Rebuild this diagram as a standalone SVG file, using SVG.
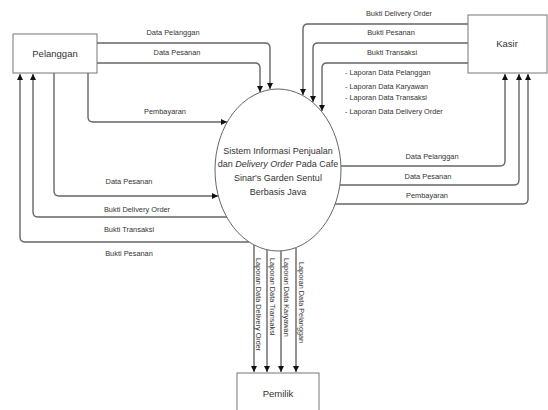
<svg xmlns="http://www.w3.org/2000/svg" width="548" height="410" viewBox="0 0 548 410">
<style>
.box{fill:#fff;stroke:#777;stroke-width:1}
.ell{fill:#fff;stroke:#666;stroke-width:1}
.c{fill:none;stroke:#666;stroke-width:1.4}
.t{font-family:"Liberation Sans",Arial,sans-serif;fill:#333}
.n{font-size:9.5px;text-anchor:middle}
.l{font-size:7.4px;text-anchor:middle}
.s{font-size:7.3px}
.m{font-size:9px;text-anchor:middle}
</style>
<defs>
<marker id="ah" markerUnits="userSpaceOnUse" markerWidth="7" markerHeight="7" refX="6" refY="3" orient="auto">
<path d="M0,0 L6,3 L0,6 z" fill="#111"/>
</marker>
</defs>
<rect width="548" height="410" fill="#fff"/>
<g id="connectors">
<path class="c" marker-end="url(#ah)" d="M97,43 H265 Q270,43 270,48 V89"/>
<path class="c" marker-end="url(#ah)" d="M97,63 H255 Q260,63 260,68 V92"/>
<path class="c" marker-end="url(#ah)" d="M88,73 V117 Q88,122 93,122 H227"/>
<path class="c" marker-end="url(#ah)" d="M54,73 V191 Q54,196 59,196 H218"/>
<path class="c" marker-end="url(#ah)" d="M227,217 H38 Q33,217 33,212 V74"/>
<path class="c" marker-end="url(#ah)" d="M249,242 H25 Q20,242 20,237 V74"/>
<path class="c" marker-end="url(#ah)" d="M468,24 H308 Q303,24 303,29 V95"/>
<path class="c" marker-end="url(#ah)" d="M468,43 H318 Q313,43 313,48 V102"/>
<path class="c" marker-end="url(#ah)" d="M468,63 H327 Q322,63 322,68 V111"/>
<path class="c" marker-end="url(#ah)" d="M341,166 H500 Q505,166 505,161 V74"/>
<path class="c" marker-end="url(#ah)" d="M339,185 H514 Q519,185 519,180 V74"/>
<path class="c" marker-end="url(#ah)" d="M335,204 H523 Q528,204 528,199 V74"/>
<path class="c" marker-end="url(#ah)" d="M254,245 V372"/>
<path class="c" marker-end="url(#ah)" d="M267,250 V372"/>
<path class="c" marker-end="url(#ah)" d="M281,251 V372"/>
<path class="c" marker-end="url(#ah)" d="M296,248 V372"/>
<g class="t l">
<text x="173" y="35">Data Pelanggan</text>
<text x="177" y="55">Data Pesanan</text>
<text x="165" y="114">Pembayaran</text>
<text x="129" y="184">Data Pesanan</text>
<text x="137" y="212">Bukti Delivery Order</text>
<text x="129" y="232">Bukti Transaksi</text>
<text x="129" y="256">Bukti Pesanan</text>
<text x="399" y="16">Bukti Delivery Order</text>
<text x="391" y="35">Bukti Pesanan</text>
<text x="392" y="55">Bukti Transaksi</text>
<text x="432" y="159">Data Pelanggan</text>
<text x="428" y="179">Data Pesanan</text>
<text x="427" y="198">Pembayaran</text>
</g>
<g class="t s">
<text x="345" y="75">- Laporan Data Pelanggan</text>
<text x="345" y="89">- Laporan Data Karyawan</text>
<text x="345" y="100">- Laporan Data Transaksi</text>
<text x="345" y="114">- Laporan Data Delivery Order</text>
<text transform="translate(256,258) rotate(90)">Laporan Data Delivery Order</text>
<text transform="translate(270,258) rotate(90)">Laporan Data Transaksi</text>
<text transform="translate(284,258) rotate(90)">Laporan Data Karyawan</text>
<text transform="translate(299,262) rotate(90)">Laporan Data Pelanggan</text>
</g>
</g>
<g id="pelanggan">
<rect class="box" x="13" y="34" width="84" height="39"/>
<text class="t n" x="55" y="57">Pelanggan</text>
</g>
<g id="kasir">
<rect class="box" x="468" y="15" width="79" height="58"/>
<text class="t n" x="507" y="47">Kasir</text>
</g>
<g id="pemilik">
<rect class="box" x="237" y="373" width="82" height="42"/>
<text class="t n" x="278" y="397">Pemilik</text>
</g>
<g id="sistem">
<ellipse class="ell" cx="278" cy="170" rx="63" ry="81"/>
<text class="t m" x="278" y="154">Sistem Informasi Penjualan</text>
<text class="t m" x="278" y="167">dan <tspan font-style="italic">Delivery Order</tspan> Pada Cafe</text>
<text class="t m" x="278" y="181">Sinar's Garden Sentul</text>
<text class="t m" x="278" y="195">Berbasis Java</text>
</g>
</svg>
